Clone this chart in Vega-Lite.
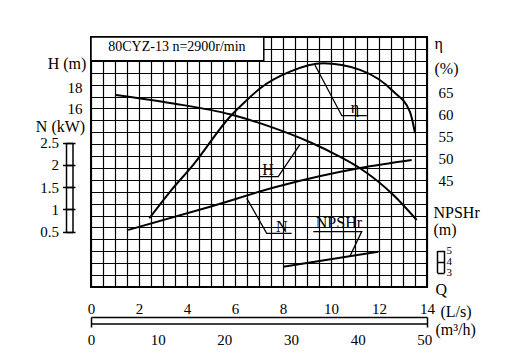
{
  "$schema": "https://vega.github.io/schema/vega-lite/v6.json",
  "width": 336,
  "height": 250,
  "autosize": {"type": "none"},
  "padding": {"left": 91, "top": 37, "right": 87, "bottom": 76},
  "background": "white",
  "config": {
    "font": "Liberation Serif",
    "view": {"stroke": "black", "strokeWidth": 2},
    "style": {
      "guide-label": {"font": "Liberation Serif", "fill": "black"},
      "guide-title": {"font": "Liberation Serif", "fill": "black"}
    },
    "axis": {
      "labelFont": "Liberation Serif", "labelFontSize": 15, "labelColor": "black",
      "titleFont": "Liberation Serif", "titleFontSize": 16, "titleFontWeight": "normal", "titleColor": "black",
      "domainColor": "black", "tickColor": "black", "labelFlush": false, "labelOverlap": false,
      "grid": false, "titleAngle": 0, "format": "~f"
    }
  },
  "datasets": {
    "H": [
      {"Q": 1.04, "H": 17.26}, {"Q": 3.43, "H": 16.47}, {"Q": 5.79, "H": 15.46},
      {"Q": 7.46, "H": 14.31}, {"Q": 9.13, "H": 12.86}, {"Q": 10.24, "H": 11.67},
      {"Q": 11.21, "H": 10.44}, {"Q": 12.6, "H": 7.95}, {"Q": 13.57, "H": 5.63}
    ],
    "eta": [
      {"Q": 2.43, "eta": 36.4}, {"Q": 3.29, "eta": 42.4}, {"Q": 4.26, "eta": 48.5},
      {"Q": 5.79, "eta": 59.4}, {"Q": 6.42, "eta": 62.8}, {"Q": 7.04, "eta": 65.8},
      {"Q": 8.29, "eta": 69.6}, {"Q": 9.68, "eta": 71.5}, {"Q": 11.21, "eta": 70.0},
      {"Q": 12.6, "eta": 65.1}, {"Q": 13.29, "eta": 60.5}, {"Q": 13.5, "eta": 55.7}
    ],
    "N": [
      {"Q": 1.55, "N": 0.54}, {"Q": 4.96, "N": 1.06}, {"Q": 7.74, "N": 1.51},
      {"Q": 11.21, "N": 1.93}, {"Q": 13.36, "N": 2.11}
    ],
    "NPSHr": [
      {"Q": 8.01, "NPSHr": 3.53}, {"Q": 11.97, "NPSHr": 4.89}
    ],
    "leaders": [
      {"id": "eta", "k": 0, "q": 9.33, "row": 18.65}, {"id": "eta", "k": 1, "q": 10.45, "row": 14.39}, {"id": "eta", "k": 2, "q": 11.49, "row": 14.39},
      {"id": "H", "k": 0, "q": 7.04, "row": 9.27}, {"id": "H", "k": 1, "q": 7.8, "row": 9.27}, {"id": "H", "k": 2, "q": 8.71, "row": 11.99},
      {"id": "N", "k": 0, "q": 6.49, "row": 7.45}, {"id": "N", "k": 1, "q": 7.32, "row": 4.51}, {"id": "N", "k": 2, "q": 8.36, "row": 4.51},
      {"id": "NPSHr", "k": 0, "q": 9.26, "row": 4.65}, {"id": "NPSHr", "k": 1, "q": 11.28, "row": 4.65}, {"id": "NPSHr", "k": 2, "q": 10.79, "row": 2.6}
    ],
    "labels": [
      {"text": "η", "q": 11.0, "row": 15.04},
      {"text": "H", "q": 7.38, "row": 9.87},
      {"text": "N", "q": 7.95, "row": 5.0},
      {"text": "NPSHr", "q": 10.33, "row": 5.35}
    ],
    "box": [{"model": "80CYZ-13 n=2900r/min", "q0": 0, "q1": 7.2, "r0": 19, "r1": 21, "qt": 3.58, "rt": 20.16}]
  },
  "resolve": {"scale": {"x": "independent", "y": "independent"}},
  "layer": [
    {
      "data": {"name": "box"},
      "mark": {"type": "rect", "fill": "white", "stroke": "black", "strokeWidth": 1.5},
      "encoding": {
        "x": {"field": "q0", "type": "quantitative", "scale": {"domain": [0, 14], "nice": false, "zero": false},
          "axis": {"orient": "bottom", "values": [0,0.5,1,1.5,2,2.5,3,3.5,4,4.5,5,5.5,6,6.5,7,7.5,8,8.5,9,9.5,10,10.5,11,11.5,12,12.5,13,13.5,14],
            "grid": true, "gridColor": "black", "gridWidth": 1.2, "gridOpacity": 1, "domain": false, "ticks": false,
            "format": "~f", "labelExpr": "datum.value % 2 == 0 ? datum.label : ''", "labelPadding": 14,
            "labelFont": "Liberation Serif", "titleFont": "Liberation Serif",
            "title": "(L/s)", "titleX": 349, "titleY": 24, "titleAlign": "left", "titleBaseline": "middle"}},
        "x2": {"field": "q1"},
        "y": {"field": "r0", "type": "quantitative", "scale": {"domain": [0, 21], "nice": false, "zero": false},
          "axis": {"values": [0,1,2,3,4,5,6,7,8,9,10,11,12,13,14,15,16,17,18,19,20,21],
            "grid": true, "gridColor": "black", "gridWidth": 1.2, "gridOpacity": 1, "domain": false, "ticks": false, "labels": false, "title": null}},
        "y2": {"field": "r1"}
      }
    },
    {
      "data": {"name": "box"},
      "mark": {"type": "text", "font": "Liberation Serif", "fontSize": 14, "align": "center", "baseline": "middle", "color": "black"},
      "encoding": {
        "x": {"field": "qt", "type": "quantitative", "scale": {"domain": [0, 14], "nice": false, "zero": false}, "axis": null},
        "y": {"field": "rt", "type": "quantitative", "scale": {"domain": [0, 21], "nice": false, "zero": false}, "axis": null},
        "text": {"field": "model"}
      }
    },
    {
      "data": {"name": "leaders"},
      "mark": {"type": "line", "color": "black", "strokeWidth": 1.3},
      "encoding": {
        "x": {"field": "q", "type": "quantitative", "scale": {"domain": [0, 14], "nice": false, "zero": false}, "axis": null},
        "y": {"field": "row", "type": "quantitative", "scale": {"domain": [0, 21], "nice": false, "zero": false}, "axis": null},
        "detail": {"field": "id"},
        "order": {"field": "k"}
      }
    },
    {
      "data": {"name": "labels"},
      "mark": {"type": "text", "font": "Liberation Serif", "fontSize": 16, "align": "center", "baseline": "middle", "color": "black"},
      "encoding": {
        "x": {"field": "q", "type": "quantitative", "scale": {"domain": [0, 14], "nice": false, "zero": false}, "axis": null},
        "y": {"field": "row", "type": "quantitative", "scale": {"domain": [0, 21], "nice": false, "zero": false}, "axis": null},
        "text": {"field": "text"}
      }
    },
    {
      "data": {"name": "H"},
      "mark": {"type": "line", "interpolate": "monotone", "color": "black", "strokeWidth": 2},
      "encoding": {
        "x": {"field": "Q", "type": "quantitative", "scale": {"domain": [0, 14], "nice": false, "zero": false}, "axis": null},
        "y": {"field": "H", "type": "quantitative", "scale": {"domain": [16, 18], "range": [71.5, 50], "nice": false, "zero": false},
          "axis": {"orient": "left", "values": [16, 18], "domain": false, "ticks": false, "labelPadding": 9,
            "labelFont": "Liberation Serif", "titleFont": "Liberation Serif",
            "title": "H (m)", "titleX": -24.5, "titleY": 26.3, "titleAlign": "center", "titleBaseline": "middle"}}
      }
    },
    {
      "data": {"name": "eta"},
      "mark": {"type": "line", "interpolate": "monotone", "color": "black", "strokeWidth": 2},
      "encoding": {
        "x": {"field": "Q", "type": "quantitative", "scale": {"domain": [0, 14], "nice": false, "zero": false}, "axis": null},
        "y": {"field": "eta", "type": "quantitative", "scale": {"domain": [45, 65], "range": [143.3, 55], "nice": false, "zero": false},
          "axis": {"orient": "right", "values": [45, 50, 55, 60, 65], "domain": false, "ticks": false, "labelPadding": 11,
            "labelFont": "Liberation Serif", "titleFont": "Liberation Serif",
            "title": ["η", "(%)"], "titleX": 7, "titleY": -2, "titleAlign": "left", "titleBaseline": "top", "titleLineHeight": 25}}
      }
    },
    {
      "data": {"name": "N"},
      "mark": {"type": "line", "interpolate": "monotone", "color": "black", "strokeWidth": 2},
      "encoding": {
        "x": {"field": "Q", "type": "quantitative", "scale": {"domain": [0, 14], "nice": false, "zero": false}, "axis": null},
        "y": {"field": "N", "type": "quantitative", "scale": {"domain": [0.5, 2.5], "range": [194.7, 105.7], "nice": false, "zero": false},
          "axis": {"orient": "left", "offset": 18.5, "values": [0.5, 1, 1.5, 2, 2.5], "format": "~f", "domain": true, "domainWidth": 1.5,
            "ticks": true, "tickSize": 10, "tickWidth": 1.5, "labelPadding": 4,
            "labelFont": "Liberation Serif", "titleFont": "Liberation Serif",
            "title": "N (kW)", "titleX": -12.5, "titleY": 89.7, "titleAlign": "center", "titleBaseline": "middle"}}
      }
    },
    {
      "data": {"name": "N"},
      "mark": {"type": "line", "interpolate": "monotone", "color": "black", "strokeWidth": 2, "opacity": 0},
      "encoding": {
        "x": {"field": "Q", "type": "quantitative", "scale": {"domain": [0, 14], "nice": false, "zero": false}, "axis": null},
        "y": {"field": "N", "type": "quantitative", "scale": {"domain": [0.5, 2.5], "range": [194.7, 105.7], "nice": false, "zero": false},
          "axis": {"orient": "left", "offset": 25, "values": [0.5, 1, 1.5, 2, 2.5], "domain": true, "domainWidth": 1.5,
            "ticks": true, "tickSize": -9, "tickWidth": 1.5, "labels": false, "title": null}}
      }
    },
    {
      "data": {"name": "NPSHr"},
      "mark": {"type": "line", "color": "black", "strokeWidth": 2},
      "encoding": {
        "x": {"field": "Q", "type": "quantitative", "scale": {"domain": [0, 14], "nice": false, "zero": false}, "axis": null},
        "y": {"field": "NPSHr", "type": "quantitative", "scale": {"domain": [3, 5], "range": [235.5, 213.5], "nice": false, "zero": false},
          "axis": {"orient": "right", "offset": 17, "values": [3, 4, 5], "format": "~f", "domain": true, "domainWidth": 1.5,
            "ticks": false, "labelPadding": 2, "labelFontSize": 11,
            "labelFont": "Liberation Serif", "titleFont": "Liberation Serif",
            "title": ["NPSHr", " (m)"], "titleX": -11, "titleY": 167, "titleAlign": "left", "titleBaseline": "top", "titleLineHeight": 17}}
      }
    },
    {
      "data": {"name": "NPSHr"},
      "mark": {"type": "line", "color": "black", "strokeWidth": 2, "opacity": 0},
      "encoding": {
        "x": {"field": "Q", "type": "quantitative", "scale": {"domain": [0, 14], "nice": false, "zero": false}, "axis": null},
        "y": {"field": "NPSHr", "type": "quantitative", "scale": {"domain": [3, 5], "range": [235.5, 213.5], "nice": false, "zero": false},
          "axis": {"orient": "right", "offset": 10, "values": [3, 4, 5], "domain": true, "domainWidth": 1.5,
            "ticks": true, "tickSize": 7, "tickWidth": 1.5, "labels": false, "title": null}}
      }
    },
    {
      "data": {"values": [{"m3h": 0}]},
      "mark": {"type": "point", "opacity": 0},
      "encoding": {
        "x": {"field": "m3h", "type": "quantitative", "scale": {"domain": [0, 50.4], "nice": false, "zero": false},
          "axis": {"orient": "bottom", "offset": 30, "values": [0, 10, 20, 30, 40, 50, 50.4], "domain": true, "domainWidth": 1.5,
            "format": "~f", "labelExpr": "datum.value > 50 ? '' : datum.label",
            "ticks": true, "tickSize": 10, "tickWidth": 1.5,
            "tickOpacity": {"condition": {"test": "datum.value == 0 || datum.value > 50", "value": 1}, "value": 0},
            "labelPadding": 5,
            "labelFont": "Liberation Serif", "titleFont": "Liberation Serif",
            "title": "(m³/h)", "titleX": 344, "titleY": 12, "titleAlign": "left", "titleBaseline": "middle"}},
        "y": {"datum": 0, "type": "quantitative", "axis": null}
      }
    },
    {
      "data": {"values": [{"q": 0}]},
      "mark": {"type": "point", "opacity": 0},
      "encoding": {
        "x": {"field": "q", "type": "quantitative", "scale": {"domain": [0, 14], "nice": false, "zero": false},
          "axis": {"orient": "bottom", "offset": 36.5, "values": [0, 14], "domain": true, "domainWidth": 1.5,
            "ticks": false, "labels": false, "titleFont": "Liberation Serif",
            "title": "Q", "titleX": 344, "titleY": -34.5, "titleAlign": "left", "titleBaseline": "middle"}},
        "y": {"datum": 0, "type": "quantitative", "axis": null}
      }
    }
  ]
}
